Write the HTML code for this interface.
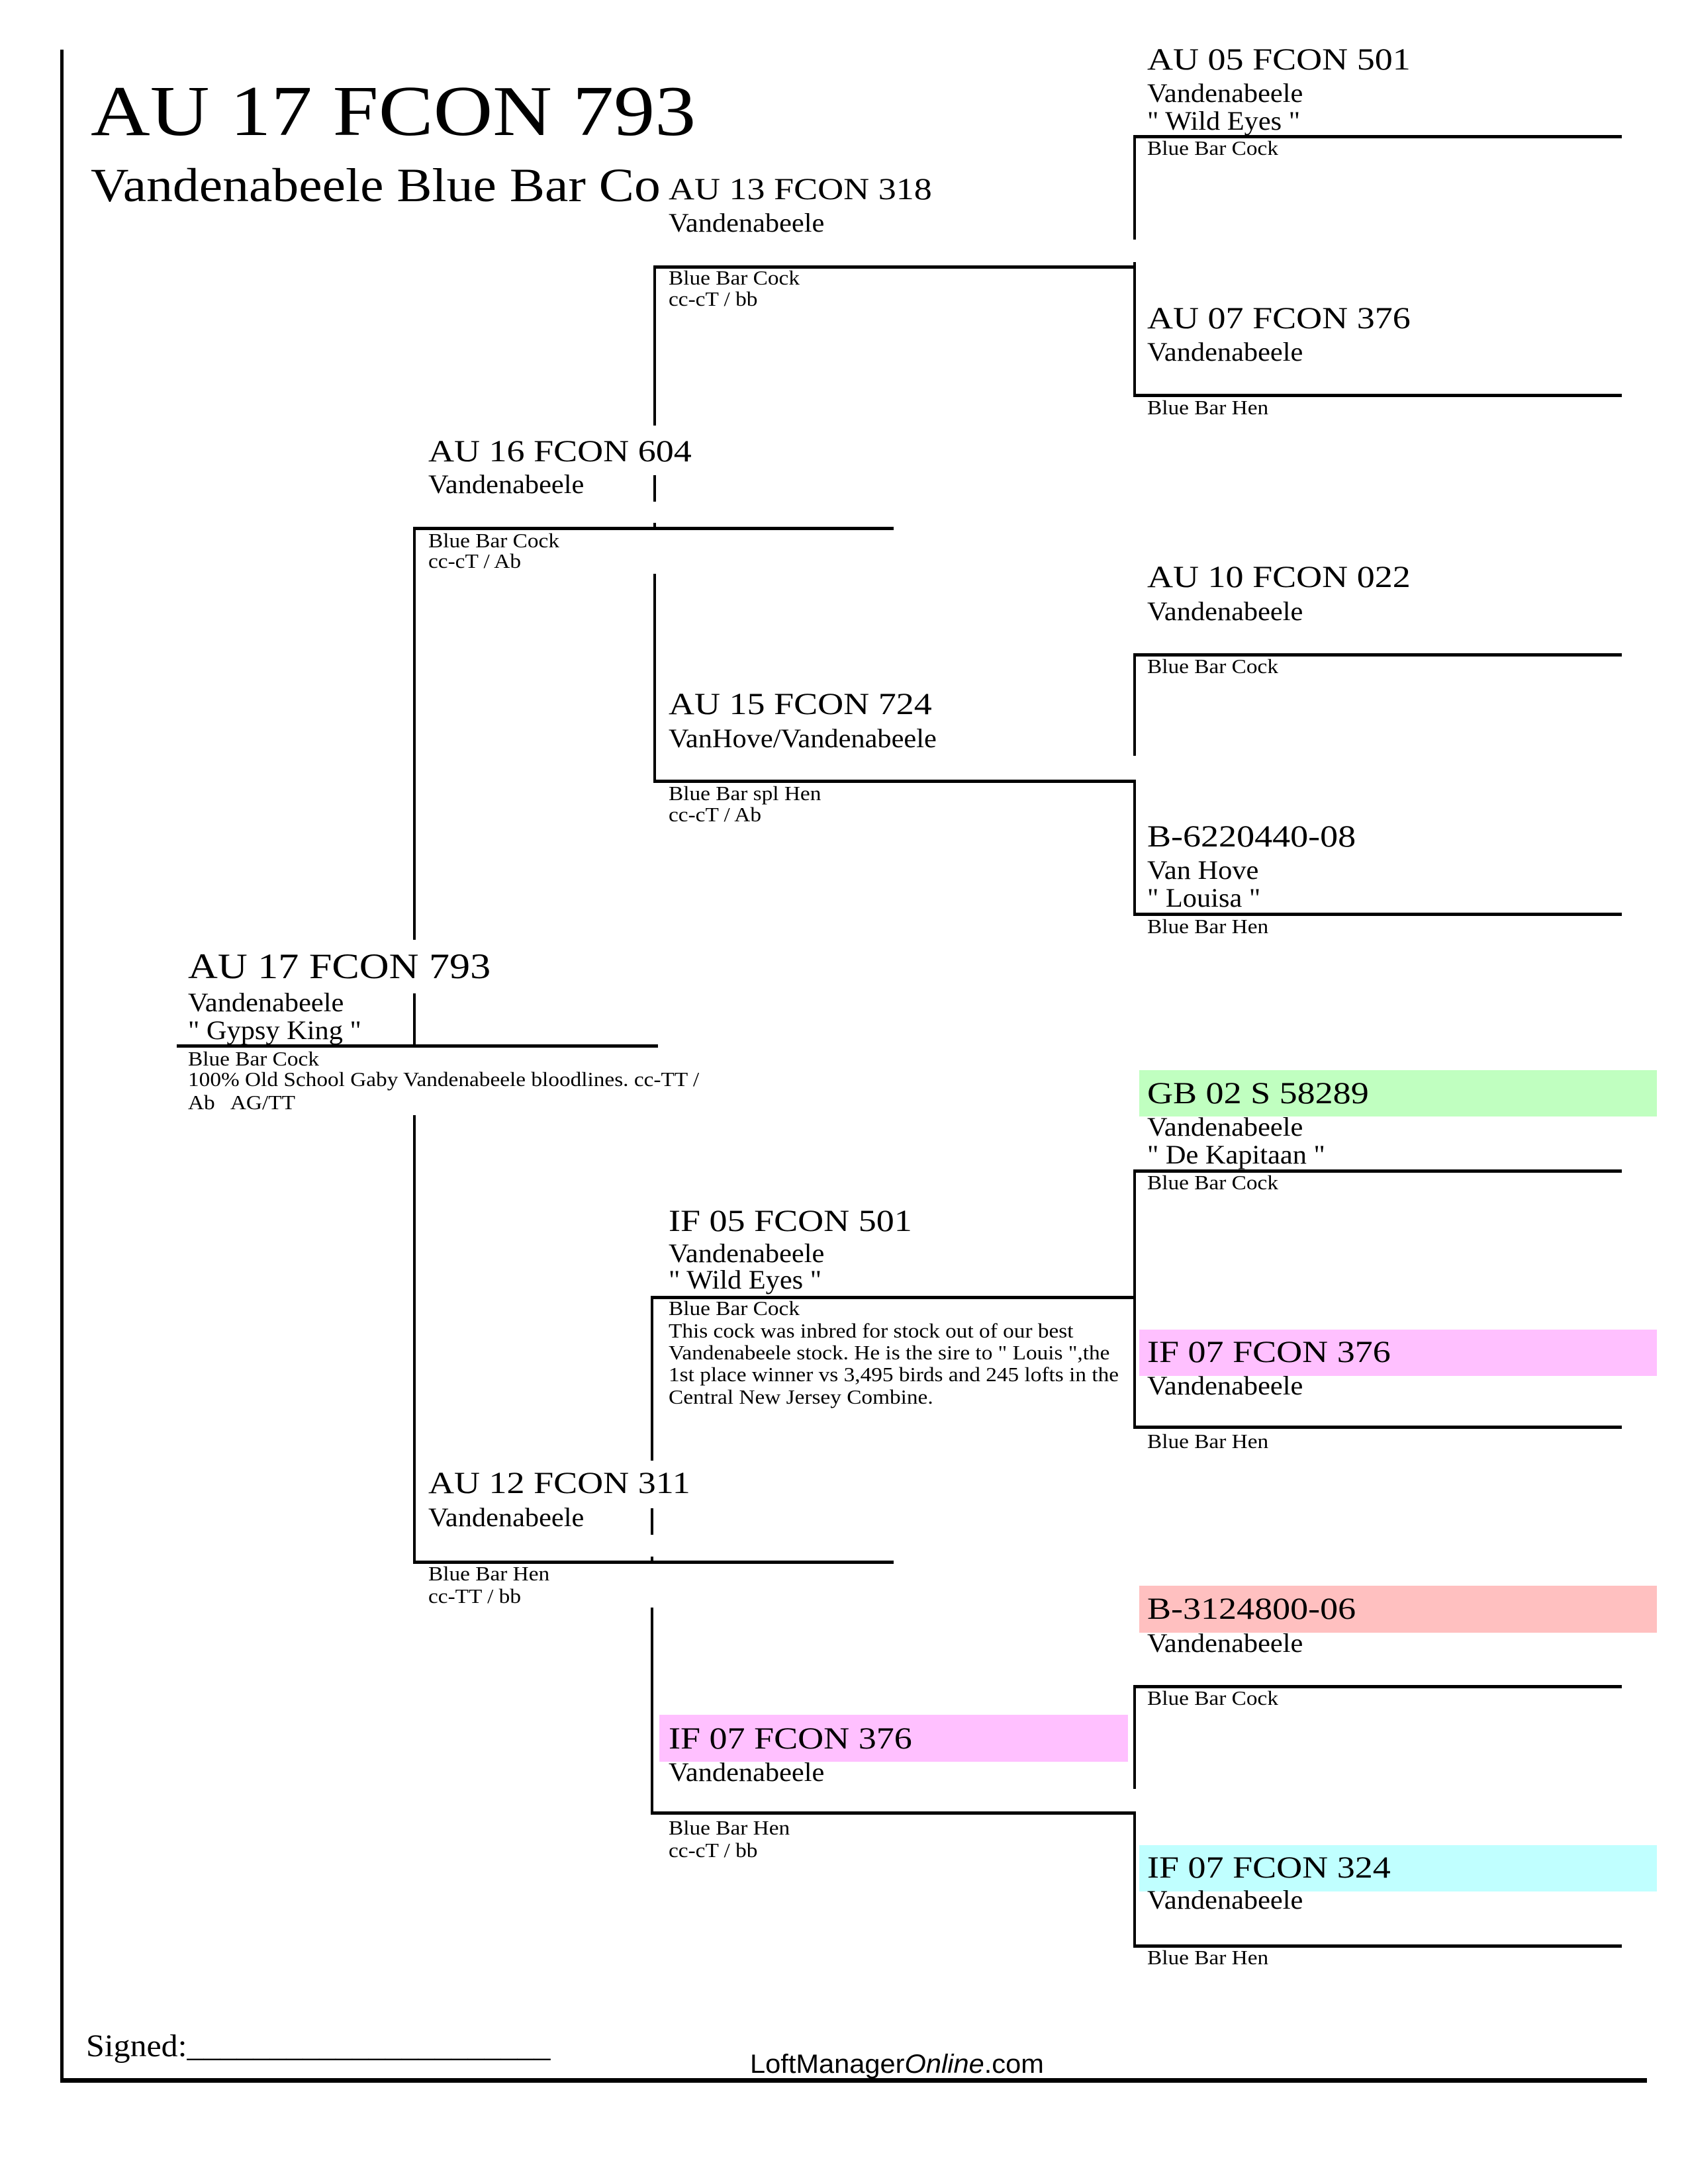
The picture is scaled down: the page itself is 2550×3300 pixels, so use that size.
<!DOCTYPE html>
<html><head><meta charset="utf-8">
<style>
html,body{margin:0;padding:0;background:#fff;}
svg{display:block;}
text{font-family:"Liberation Serif",serif;fill:#000;}
.n{font-size:47px;}
.n1{font-size:54px;}
.s{font-size:40px;}
.t{font-size:31px;}
</style></head>
<body>
<svg width="2550" height="3300" viewBox="0 0 2550 3300" xmlns="http://www.w3.org/2000/svg">
<defs><clipPath id="c"><rect x="0" y="220" width="995" height="120"/></clipPath></defs>
<rect width="2550" height="3300" fill="#fff"/>
<rect x="1721" y="1617" width="782" height="70" fill="#c0ffc0"/>
<rect x="1721" y="2009" width="782" height="70" fill="#ffc0ff"/>
<rect x="1721" y="2396" width="782" height="71" fill="#ffc0c0"/>
<rect x="1721" y="2788" width="782" height="70" fill="#c0ffff"/>
<rect x="996" y="2591" width="708" height="71" fill="#ffc0ff"/>
<g fill="#000">
<rect x="91" y="75" width="5" height="3072"/>
<rect x="91" y="3140" width="2397" height="7"/>
<rect x="267" y="1578" width="727" height="5"/>
<rect x="624" y="796" width="4" height="624"/>
<rect x="624" y="1501" width="4" height="80"/>
<rect x="624" y="1685" width="4" height="677"/>
<rect x="624" y="796" width="726" height="5"/>
<rect x="624" y="2358" width="726" height="5"/>
<rect x="987" y="401" width="4" height="242"/>
<rect x="987" y="718" width="4" height="40"/>
<rect x="987" y="790" width="4" height="10"/>
<rect x="987" y="867" width="4" height="315"/>
<rect x="987" y="401" width="729" height="5"/>
<rect x="987" y="1178" width="729" height="5"/>
<rect x="983" y="1958" width="4" height="249"/>
<rect x="983" y="2279" width="4" height="40"/>
<rect x="983" y="2352" width="4" height="10"/>
<rect x="983" y="2429" width="4" height="312"/>
<rect x="983" y="1958" width="731" height="5"/>
<rect x="983" y="2737" width="732" height="5"/>
<rect x="1712" y="204" width="4" height="158"/>
<rect x="1712" y="396" width="4" height="203"/>
<rect x="1712" y="987" width="4" height="155"/>
<rect x="1712" y="1178" width="4" height="205"/>
<rect x="1712" y="1767" width="4" height="391"/>
<rect x="1712" y="2546" width="4" height="157"/>
<rect x="1712" y="2737" width="4" height="205"/>
<rect x="1712" y="204" width="738" height="5"/>
<rect x="1712" y="595" width="738" height="5"/>
<rect x="1712" y="987" width="738" height="5"/>
<rect x="1712" y="1379" width="738" height="5"/>
<rect x="1712" y="1767" width="738" height="5"/>
<rect x="1712" y="2154" width="738" height="5"/>
<rect x="1712" y="2546" width="738" height="5"/>
<rect x="1712" y="2938" width="738" height="5"/>
</g>
<text transform="translate(137 204) scale(1.15 1)" style="font-size:108px">AU 17 FCON 793</text>
<g clip-path="url(#c)"><text transform="translate(137 304) scale(1.107 1)" style="font-size:72px">Vandenabeele Blue Bar Cock</text></g>
<text transform="translate(284 1478) scale(1.15 1)" class="n1">AU 17 FCON 793</text>
<text transform="translate(284 1528) scale(1.06 1)" class="s">Vandenabeele</text>
<text transform="translate(284 1570) scale(1.06 1)" class="s">" Gypsy King "</text>
<text transform="translate(284 1610) scale(1.075 1)" class="t">Blue Bar Cock</text>
<text transform="translate(284 1641) scale(1.075 1)" class="t">100% Old School Gaby Vandenabeele bloodlines. cc-TT /</text>
<text transform="translate(284 1676) scale(1.075 1)" class="t" xml:space="preserve">Ab   AG/TT</text>
<text transform="translate(647 697) scale(1.15 1)" class="n">AU 16 FCON 604</text>
<text transform="translate(647 745) scale(1.06 1)" class="s">Vandenabeele</text>
<text transform="translate(647 827) scale(1.075 1)" class="t">Blue Bar Cock</text>
<text transform="translate(647 858) scale(1.075 1)" class="t">cc-cT / Ab</text>
<text transform="translate(647 2256) scale(1.15 1)" class="n">AU 12 FCON 311</text>
<text transform="translate(647 2306) scale(1.06 1)" class="s">Vandenabeele</text>
<text transform="translate(647 2388) scale(1.075 1)" class="t">Blue Bar Hen</text>
<text transform="translate(647 2422) scale(1.075 1)" class="t">cc-TT / bb</text>
<text transform="translate(1010 301) scale(1.15 1)" class="n">AU 13 FCON 318</text>
<text transform="translate(1010 350) scale(1.06 1)" class="s">Vandenabeele</text>
<text transform="translate(1010 430) scale(1.075 1)" class="t">Blue Bar Cock</text>
<text transform="translate(1010 462) scale(1.075 1)" class="t">cc-cT / bb</text>
<text transform="translate(1010 1079) scale(1.15 1)" class="n">AU 15 FCON 724</text>
<text transform="translate(1010 1129) scale(1.06 1)" class="s">VanHove/Vandenabeele</text>
<text transform="translate(1010 1209) scale(1.075 1)" class="t">Blue Bar spl Hen</text>
<text transform="translate(1010 1241) scale(1.075 1)" class="t">cc-cT / Ab</text>
<text transform="translate(1010 1860) scale(1.15 1)" class="n">IF 05 FCON 501</text>
<text transform="translate(1010 1907) scale(1.06 1)" class="s">Vandenabeele</text>
<text transform="translate(1010 1947) scale(1.06 1)" class="s">" Wild Eyes "</text>
<text transform="translate(1010 1987) scale(1.075 1)" class="t">Blue Bar Cock</text>
<text transform="translate(1010 2021) scale(1.075 1)" class="t">This cock was inbred for stock out of our best</text>
<text transform="translate(1010 2054) scale(1.075 1)" class="t">Vandenabeele stock. He is the sire to " Louis ",the</text>
<text transform="translate(1010 2087) scale(1.075 1)" class="t">1st place winner vs 3,495 birds and 245 lofts in the</text>
<text transform="translate(1010 2121) scale(1.075 1)" class="t">Central New Jersey Combine.</text>
<text transform="translate(1010 2642) scale(1.15 1)" class="n">IF 07 FCON 376</text>
<text transform="translate(1010 2691) scale(1.06 1)" class="s">Vandenabeele</text>
<text transform="translate(1010 2772) scale(1.075 1)" class="t">Blue Bar Hen</text>
<text transform="translate(1010 2806) scale(1.075 1)" class="t">cc-cT / bb</text>
<text transform="translate(1733 105) scale(1.15 1)" class="n">AU 05 FCON 501</text>
<text transform="translate(1733 154) scale(1.06 1)" class="s">Vandenabeele</text>
<text transform="translate(1733 196) scale(1.06 1)" class="s">" Wild Eyes "</text>
<text transform="translate(1733 234) scale(1.075 1)" class="t">Blue Bar Cock</text>
<text transform="translate(1733 496) scale(1.15 1)" class="n">AU 07 FCON 376</text>
<text transform="translate(1733 545) scale(1.06 1)" class="s">Vandenabeele</text>
<text transform="translate(1733 626) scale(1.075 1)" class="t">Blue Bar Hen</text>
<text transform="translate(1733 887) scale(1.15 1)" class="n">AU 10 FCON 022</text>
<text transform="translate(1733 937) scale(1.06 1)" class="s">Vandenabeele</text>
<text transform="translate(1733 1017) scale(1.075 1)" class="t">Blue Bar Cock</text>
<text transform="translate(1733 1279) scale(1.15 1)" class="n">B-6220440-08</text>
<text transform="translate(1733 1328) scale(1.06 1)" class="s">Van Hove</text>
<text transform="translate(1733 1370) scale(1.06 1)" class="s">" Louisa "</text>
<text transform="translate(1733 1410) scale(1.075 1)" class="t">Blue Bar Hen</text>
<text transform="translate(1733 1667) scale(1.15 1)" class="n">GB 02 S 58289</text>
<text transform="translate(1733 1716) scale(1.06 1)" class="s">Vandenabeele</text>
<text transform="translate(1733 1758) scale(1.06 1)" class="s">" De Kapitaan "</text>
<text transform="translate(1733 1797) scale(1.075 1)" class="t">Blue Bar Cock</text>
<text transform="translate(1733 2058) scale(1.15 1)" class="n">IF 07 FCON 376</text>
<text transform="translate(1733 2107) scale(1.06 1)" class="s">Vandenabeele</text>
<text transform="translate(1733 2188) scale(1.075 1)" class="t">Blue Bar Hen</text>
<text transform="translate(1733 2446) scale(1.15 1)" class="n">B-3124800-06</text>
<text transform="translate(1733 2496) scale(1.06 1)" class="s">Vandenabeele</text>
<text transform="translate(1733 2576) scale(1.075 1)" class="t">Blue Bar Cock</text>
<text transform="translate(1733 2837) scale(1.15 1)" class="n">IF 07 FCON 324</text>
<text transform="translate(1733 2884) scale(1.06 1)" class="s">Vandenabeele</text>
<text transform="translate(1733 2968) scale(1.075 1)" class="t">Blue Bar Hen</text>
<text transform="translate(130 3107) scale(1.04 1)" style="font-size:48px">Signed:______________________</text>
<text transform="translate(1133 3132) scale(1.04 1)" style="font-family:'Liberation Sans',sans-serif;font-size:40px">LoftManager<tspan font-style="italic">Online</tspan>.com</text>
</svg>
</body></html>
